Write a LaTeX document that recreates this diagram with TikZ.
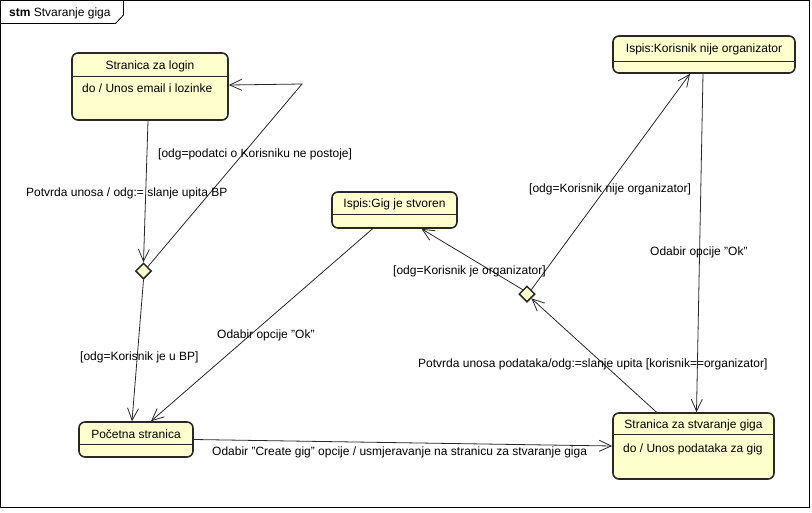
\documentclass[tikz,border=0pt]{standalone}
\usepackage{fontspec}
\setmainfont{Liberation Sans}
\usetikzlibrary{arrows.meta,shapes.geometric,calc}
\definecolor{statefill}{RGB}{255,255,206}
\definecolor{edgeline}{RGB}{40,40,40}
\newcommand{\sq}{\symbol{34}}
\begin{document}
\begin{tikzpicture}[x=1pt,y=-1pt,
  every node/.style={font=\fontsize{12}{13}\selectfont, inner sep=0pt},
  statebox/.style={draw=edgeline, line width=1.6pt, fill=statefill, rounded corners=6pt},
  choice/.style={diamond, draw=edgeline, line width=1.5pt, fill=statefill, minimum width=16pt, minimum height=16pt, inner sep=0pt},
  trans/.style={draw=edgeline, line width=0.8pt, -{Straight Barb[length=12pt,width=11pt,line width=0.8pt]}},
  lbl/.style={anchor=west}
]
\useasboundingbox (0,0) rectangle (812,512);

% frame with its name tab
\draw[line width=0.8pt] (0.5,0.5) rectangle (809.5,507.5);
\draw[line width=0.8pt] (0.5,23.5) -- (115.5,23.5) -- (123.5,15) -- (123.5,0.5);
\node[anchor=west] (framename) at (9,13) {\textbf{stm} Stvaranje giga};

% states: box, separator, texts
\node[statebox, minimum width=156pt, minimum height=67pt] (login) at (150,86.5) {};
\draw[edgeline, line width=0.8pt] (login.west |- 0,76) -- (login.east |- 0,76);
\node (loginname) at (150,66) {Stranica za login};
\node[anchor=west] (logindo) at (82,88) {do / Unos email i lozinke};

\node[statebox, minimum width=182pt, minimum height=37pt] (nije) at (704,54.5) {};
\draw[edgeline, line width=0.8pt] (nije.west |- 0,61) -- (nije.east |- 0,61);
\node (nijename) at (704,49) {Ispis:Korisnik nije organizator};

\node[statebox, minimum width=125pt, minimum height=36pt] (gig) at (394.5,210) {};
\draw[edgeline, line width=0.8pt] (gig.west |- 0,214) -- (gig.east |- 0,214);
\node (gigname) at (394.5,204) {Ispis:Gig je stvoren};

\node[statebox, minimum width=114pt, minimum height=35pt] (pocetna) at (136,439.5) {};
\draw[edgeline, line width=0.8pt] (pocetna.west |- 0,444) -- (pocetna.east |- 0,444);
\node (pocetnaname) at (136,434) {Početna stranica};

\node[statebox, minimum width=161pt, minimum height=66pt] (stvaranje) at (693.5,446) {};
\draw[edgeline, line width=0.8pt] (stvaranje.west |- 0,434) -- (stvaranje.east |- 0,434);
\node (stvaranjename) at (693.5,425) {Stranica za stvaranje giga};
\node[anchor=west] (stvaranjedo) at (623,449) {do / Unos podataka za gig};

% choice points
\node[choice] (d1) at (143.5,271) {};
\node[choice] (d2) at (527,294) {};

% transitions
\coordinate (bend) at (302,84);
\draw[trans] ($(login.south)+(-2,0)$) -- (d1.north);
\draw[trans] (d1.north east) -- (bend) -- ($(login.east)+(0,-1.5)$);
\draw[trans] (d1.south) -- ($(pocetna.north)+(-4,0)$);
\draw[trans] ($(gig.south)+(-22,0)$) -- ($(pocetna.north)+(15,0)$);
\draw[trans] (pocetna.east) -- (stvaranje.west);
\draw[trans] ($(stvaranje.north)+(-37,0)$) -- (d2.south east);
\draw[trans] (d2.north west) -- ($(gig.south)+(27,0)$);
\draw[trans] (d2.north east) -- ($(nije.south)+(-14,0)$);
\draw[trans] ($(nije.south)+(-1,0)$) -- ($(stvaranje.north)+(3,0)$);

% transition labels
\node[lbl] (t1) at (26,193) {Potvrda unosa / odg:= slanje upita BP};
\node[lbl] (t2) at (158,154) {[odg=podatci o Korisniku ne postoje]};
\node[lbl] (t3) at (80,357) {[odg=Korisnik je u BP]};
\node[lbl] (t4) at (217,335) {Odabir opcije \sq Ok\sq};
\node[lbl] (t5) at (212,452) {Odabir \sq Create gig\sq\ opcije / usmjeravanje na stranicu za stvaranje giga};
\node[lbl] (t6) at (418,364) {Potvrda unosa podataka/odg:=slanje upita [korisnik==organizator]};
\node[lbl] (t7) at (393,271) {[odg=Korisnik je organizator]};
\node[lbl] (t8) at (529,189) {[odg=Korisnik nije organizator]};
\node[lbl] (t9) at (650,252) {Odabir opcije \sq Ok\sq};
\end{tikzpicture}
\end{document}
